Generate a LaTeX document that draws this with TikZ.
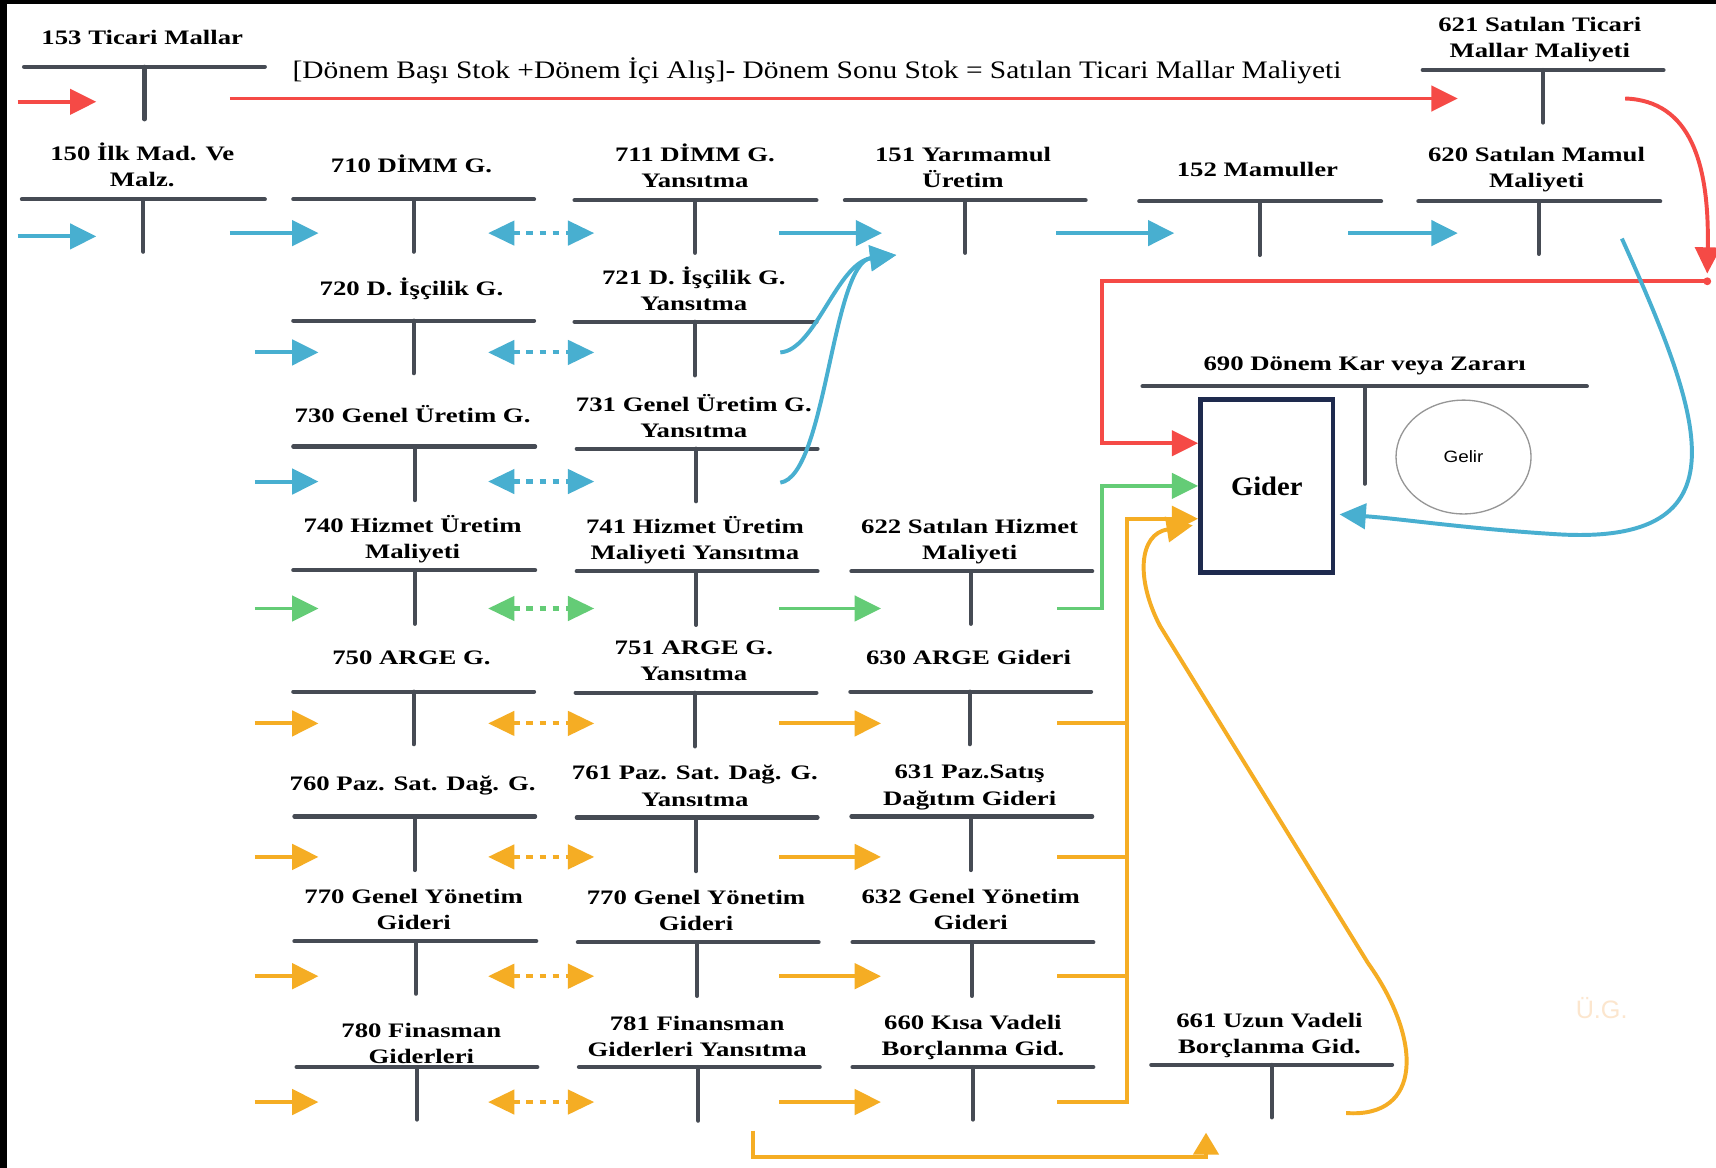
\documentclass[tikz,border=0pt]{standalone}
\usepackage{fontspec}
\setmainfont{Liberation Serif}
\newfontfamily\labfamily[FakeStretch=1.3]{Liberation Serif}
\newfontfamily\formfamily[FakeStretch=1.17]{Liberation Serif}
\newfontfamily\gidfamily[FakeStretch=1.07]{Liberation Serif}
\newfontfamily\sansfam[FakeStretch=1.15]{Liberation Sans}
\newfontfamily\sansplain{Liberation Sans}
\usetikzlibrary{arrows.meta,shapes.geometric}

\definecolor{cred}{RGB}{245,74,70}
\definecolor{cblue}{RGB}{72,175,208}
\definecolor{cgreen}{RGB}{100,204,118}
\definecolor{corange}{RGB}{245,173,36}
\definecolor{tgray}{RGB}{70,75,84}
\definecolor{navy}{RGB}{30,42,78}
\definecolor{faint}{RGB}{252,230,206}
\definecolor{egray}{RGB}{150,150,150}

\newcommand{\labfont}{\labfamily\fontsize{9.4}{12}\selectfont\bfseries}

% #1 name, #2 x1, #3 x2, #4 bar y, #5 stem x, #6 stem length, #7 label x, #8 label last baseline, #9 text
\newcommand{\tacc}[9]{%
  \coordinate (#1-l) at (#2,#4);
  \coordinate (#1-r) at (#3,#4);
  \coordinate (#1-t) at (#5,#4);
  \coordinate (#1-b) at (#5,#4+#6);
  \draw[tbar] (#1-l) -- (#1-r) (#1-t) -- (#1-b);
  \node[lab] (#1) at (#7,#8+7.2) {#9\strut};
}

\tikzset{
  tbar/.style={line width=1.9pt, draw=tgray, line cap=round},
  lab/.style={font=\labfont, align=center, inner sep=0pt, anchor=south, text=black},
  arr/.style={line width=1.8pt, -{Triangle[length=12pt,width=11.5pt]}},
  sarr/.style={line width=1.8pt, -{Triangle[length=10pt,width=11.5pt]}},
  darr/.style={line width=1.9pt, {Triangle[length=12pt,width=11pt]}-{Triangle[length=12pt,width=11pt]}, dash pattern=on 3pt off 3pt},
  gbox/.style={draw=navy, line width=2.2pt, minimum width=60.5pt, minimum height=79pt, inner sep=0pt,
    font=\gidfamily\bfseries\fontsize{12.2}{14}\selectfont},
  gell/.style={ellipse, draw=egray, line width=0.6pt, minimum width=61.7pt, minimum height=52pt, inner sep=0pt,
    font=\sansfam\fontsize{7.5}{9}\selectfont},
}

\begin{document}
\begin{tikzpicture}[x=0.5pt,y=-0.5pt]
\useasboundingbox (0,0) rectangle (1568,1067);
\fill[white] (0,0) rectangle (1568,1067);
\fill[black] (0,0) rectangle (1568,3.8);
\fill[black] (0,0) rectangle (6.2,1067);

% ---------- T accounts ----------
\tacc{t153}{22}{242}{61}{132}{48}{130}{41}{153 Ticari Mallar}
\tacc{t150}{20}{242}{182}{131}{48}{130}{171}{150 İlk Mad. Ve\\Malz.}

\tacc{t710}{268}{488}{182}{378}{48}{376}{158}{710 DİMM G.}
\tacc{t720}{268}{488}{293}{378}{48}{376}{270}{720 D. İşçilik G.}
\tacc{t730}{268}{489}{408}{379}{49}{377}{386}{730 Genel Üretim G.}
\tacc{t740}{268}{489}{521}{379}{49}{377}{511}{740 Hizmet Üretim\\Maliyeti}
\tacc{t750}{268}{488}{632}{378}{48}{376}{608}{750 ARGE G.}
\tacc{t760}{269}{489}{746}{379}{49}{377}{723}{760 Paz. Sat. Dağ. G.}
\tacc{t770}{269}{490}{860}{380}{48}{378}{850}{770 Genel Yönetim\\Gideri}
\tacc{t780}{271}{491}{975}{381}{48}{385}{972}{780 Finasman\\Giderleri}

\tacc{t711}{525}{746}{183}{635}{48}{635}{172}{711 DİMM G.\\Yansıtma}
\tacc{t721}{525}{746}{294}{635}{49}{634}{284}{721 D. İşçilik G.\\Yansıtma}
\tacc{t731}{527}{747}{410}{636}{48}{634}{400}{731 Genel Üretim G.\\Yansıtma}
\tacc{t741}{527}{747}{522}{636}{49}{635}{512}{741 Hizmet Üretim\\Maliyeti Yansıtma}
\tacc{t751}{526}{746}{633}{635}{49}{634}{622}{751 ARGE G.\\Yansıtma}
\tacc{t761}{527}{747}{747}{636}{49}{635}{737}{761 Paz. Sat. Dağ. G.\\Yansıtma}
\tacc{t770c}{528}{748}{861}{637}{49}{636}{851}{770 Genel Yönetim\\Gideri}
\tacc{t781}{529}{749}{975}{638}{49}{637}{966}{781 Finansman\\Giderleri Yansıtma}

\tacc{t151}{772}{992}{183}{882}{48}{880}{172}{151 Yarımamul\\Üretim}
\tacc{t622}{778}{998}{522}{887}{48}{886}{512}{622 Satılan Hizmet\\Maliyeti}
\tacc{t630}{777}{997}{632}{886}{48}{885}{608}{630 ARGE Gideri}
\tacc{t631}{778}{998}{746}{887}{49}{886}{736}{631 Paz.Satış\\Dağıtım Gideri}
\tacc{t632}{779}{999}{861}{888}{49}{887}{850}{632 Genel Yönetim\\Gideri}
\tacc{t660}{779}{999}{975}{889}{48}{889}{965}{660 Kısa Vadeli\\Borçlanma Gid.}

\tacc{t152}{1041}{1262}{184}{1151}{49}{1149}{162}{152 Mamuller}
\tacc{t661}{1052}{1272}{973}{1162}{48}{1160}{963}{661 Uzun Vadeli\\Borçlanma Gid.}
\tacc{t690}{1044}{1450}{353}{1247}{89}{1247}{339}{690 Dönem Kar veya Zararı}
\tacc{t621}{1300}{1520}{64}{1410}{48}{1407}{53}{621 Satılan Ticari\\Mallar Maliyeti}
\tacc{t620}{1296}{1517}{184}{1406}{48}{1404}{172}{620 Satılan Mamul\\Maliyeti}

% ---------- texts ----------
\node[font=\formfamily\fontsize{11.5}{14}\selectfont, anchor=base, inner sep=0pt] (formula) at (746.5,72)
  {[Dönem Başı Stok +Dönem İçi Alış]- Dönem Sonu Stok = Satılan Ticari Mallar Maliyeti};
\node[gbox] (gider) at (1157.5,444) {Gider};
\node[gell] (gelir) at (1337.3,417.6) {Gelir};
\node[font=\sansplain\fontsize{11.5}{13}\selectfont, text=faint, anchor=base, inner sep=0pt] (ug) at (1463.5,930.5) {Ü.G.};

% ---------- red ----------
\coordinate (rin1) at (16,93);  \coordinate (rin2) at (88,93);
\draw[arr,cred] (rin1) -- (rin2);
\coordinate (rl1) at (210,90);  \coordinate (rl2) at (1332,90);
\draw[arr,cred] (rl1) -- (rl2);
\coordinate (rc1) at (1485,90); \coordinate (rc2) at (1560,250);
\draw[arr,cred] (rc1) .. controls (1545,92) and (1562,150) .. (rc2);
\coordinate (rdot) at (1560,257);
\fill[cred] (rdot) circle[radius=1.8pt];
\coordinate (rk1) at (1007,257); \coordinate (rk2) at (1007,405);
\draw[arr,cred] (rdot) -- (rk1) -- (rk2) -- (rk2 -| gider.west);

% ---------- blue ----------
\coordinate (bin1) at (16,216);  \coordinate (bin2) at (88,216);
\draw[arr,cblue] (bin1) -- (bin2);
\coordinate (bab1) at (210,213); \coordinate (bab2) at (291,213);
\draw[arr,cblue] (bab1) -- (bab2);
\coordinate (bcd1) at (712,213); \coordinate (bcd2) at (806,213);
\draw[arr,cblue] (bcd1) -- (bcd2);
\coordinate (bde1) at (965,213); \coordinate (bde2) at (1073,213);
\draw[arr,cblue] (bde1) -- (bde2);
\coordinate (bef1) at (1232,213); \coordinate (bef2) at (1332,213);
\draw[arr,cblue] (bef1) -- (bef2);
\coordinate (cv1s) at (713,322); \coordinate (cv2s) at (713,441); \coordinate (cvt) at (819,233);
\draw[arr,cblue] (cv1s) .. controls (745,320) and (765,240) .. (cvt);
\draw[arr,cblue] (cv2s) .. controls (755,435) and (760,240) .. (cvt);
\coordinate (bgs) at (1482,218); \coordinate (bgt) at (1224,470);
\draw[arr,cblue] (bgs) .. controls (1555,380) and (1600,500) .. (1420,488)
   .. controls (1340,483) and (1280,474) .. (bgt);

% ---------- row arrows ----------
\foreach \n/\y/\c in {a/322/cblue, b/440/cblue, c/556/cgreen, d/661/corange, e/783/corange, f/892/corange, g/1007/corange} {
  \coordinate (in\n-s) at (233,\y); \coordinate (in\n-e) at (291,\y);
  \draw[arr,\c] (in\n-s) -- (in\n-e);
}
\foreach \n/\y/\c in {z/213/cblue, a/322/cblue, b/440/cblue, c/556/cgreen, d/661/corange, e/783/corange, f/892/corange, g/1007/corange} {
  \coordinate (dt\n-s) at (446,\y); \coordinate (dt\n-e) at (543,\y);
  \draw[darr,\c] (dt\n-s) -- (dt\n-e);
}
\foreach \n/\y/\c in {c/556/cgreen, d/661/corange, e/783/corange, f/892/corange, g/1007/corange} {
  \coordinate (cd\n-s) at (712,\y); \coordinate (cd\n-e) at (805,\y);
  \draw[arr,\c] (cd\n-s) -- (cd\n-e);
}

% ---------- green into Gider ----------
\coordinate (gk0) at (966,556); \coordinate (gk1) at (1007,556); \coordinate (gk2) at (1007,444);
\draw[arr,cgreen] (gk0) -- (gk1) -- (gk2) -- (gk2 -| gider.west);

% ---------- orange into Gider ----------
\foreach \n/\y in {d/661, e/783, f/892} {
  \coordinate (os\n-s) at (966,\y); \coordinate (os\n-e) at (1030,\y);
  \draw[line width=1.8pt, corange] (os\n-s) -- (os\n-e);
}
\coordinate (ok0) at (966,1007); \coordinate (ok1) at (1030,1007); \coordinate (ok2) at (1030,474);
\draw[arr,corange] (ok0) -- (ok1) -- (ok2) -- (ok2 -| gider.west);
\coordinate (ocs) at (1230,1017); \coordinate (oct) at (1090,480);
\draw[arr,corange] (ocs) .. controls (1300,1022) and (1300,950) .. (1250,880)
   -- (1060,572) .. controls (1038,530) and (1040,488) .. (oct);
\coordinate (ob0) at (688,1033); \coordinate (ob1) at (688,1057);
\coordinate (ob2) at (1102,1057); \coordinate (ob3) at (1102,1035);
\draw[sarr,corange] (ob0) -- (ob1) -- (ob2) -- (ob3);
\end{tikzpicture}
\end{document}
